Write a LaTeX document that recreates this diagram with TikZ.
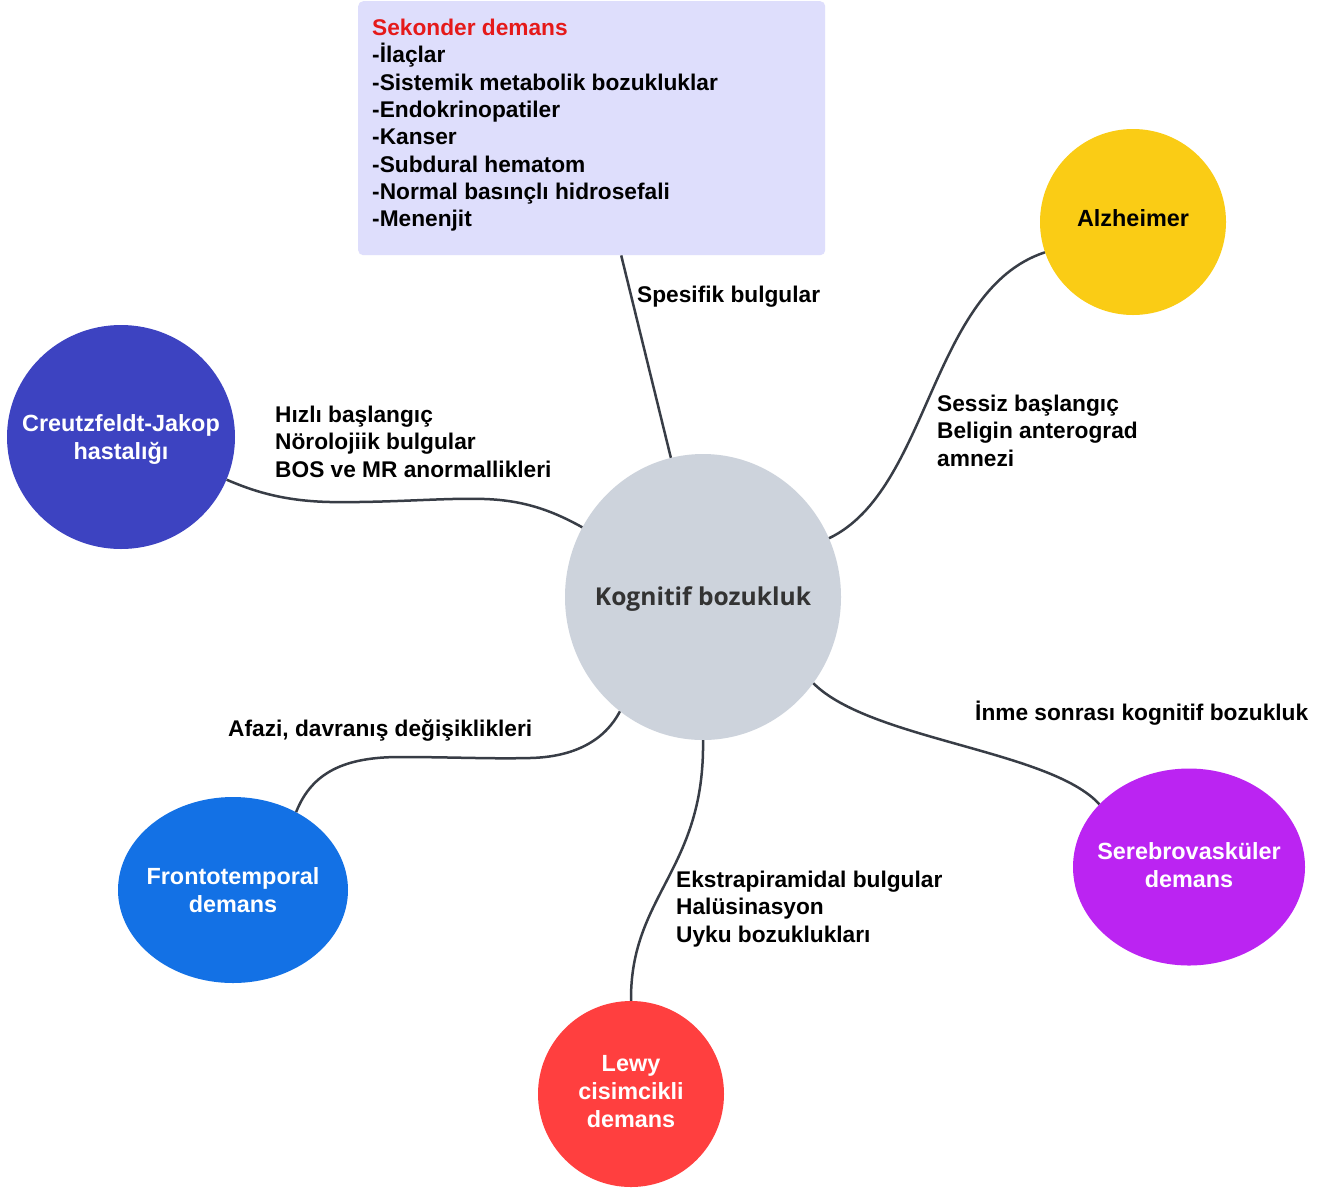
\documentclass[tikz,border=0pt]{standalone}
\usepackage{fontspec}
\setmainfont{Liberation Sans}
\newfontfamily\ctrfont{Open Sans}
\usetikzlibrary{shapes.geometric}
\definecolor{boxfill}{HTML}{DEDEFC}
\definecolor{secred}{HTML}{E51A1A}
\definecolor{ctrfill}{HTML}{CDD3DC}
\definecolor{alzfill}{HTML}{FACC15}
\definecolor{cjfill}{HTML}{3D43C1}
\definecolor{ftfill}{HTML}{1371E5}
\definecolor{lewyfill}{HTML}{FF3F3F}
\definecolor{serfill}{HTML}{BB24F2}
\definecolor{linkcol}{HTML}{383D46}
\definecolor{ctrtext}{HTML}{333333}
\begin{document}
\begin{tikzpicture}[x=1pt,y=-1pt,
  lbl/.style={font=\fontsize{22.7}{27.3}\selectfont\bfseries, inner sep=0pt, align=left, anchor=north west, text=black},
  lblone/.style={font=\fontsize{22.7}{27.3}\selectfont\bfseries, inner sep=0pt, anchor=base west, text=black},
  blob/.style={ellipse, inner sep=0pt, draw=none},
  blobtext/.style={font=\fontsize{23.4}{28}\selectfont\bfseries, inner sep=0pt, align=center, text=white},
  link/.style={draw=linkcol, line width=2.5pt}
]
\useasboundingbox (0,0) rectangle (1340,1189);
\fill[white] (0,0) rectangle (1340,1189);

% secondary dementia box
\node[fill=boxfill, rounded corners=5pt, minimum width=467pt, minimum height=254pt, anchor=north west, inner sep=0pt] (box) at (358,1) {};
\node[lbl] (boxtxt) at (372,19) {\textcolor{secred}{Sekonder demans}\\-İlaçlar\\-Sistemik metabolik bozukluklar\\-Endokrinopatiler\\-Kanser\\-Subdural hematom\\-Normal basınçlı hidrosefali\\-Menenjit};

% circles
\node[blob, fill=ctrfill, minimum width=276pt, minimum height=286pt] (ctr) at (703,597) {};
\node[blob, fill=alzfill, minimum width=186pt, minimum height=186pt] (alz) at (1133,222) {};
\node[blob, fill=cjfill, minimum width=228pt, minimum height=224pt] (cj) at (121,437) {};
\node[blob, fill=ftfill, minimum width=230pt, minimum height=186pt] (ft) at (233,890) {};
\node[blob, fill=lewyfill, minimum width=186pt, minimum height=186pt] (lewy) at (631,1094) {};
\node[blob, fill=serfill, minimum width=232pt, minimum height=197pt] (ser) at (1189,867) {};

% circle texts
\node[font=\ctrfont\fontsize{24.6}{29}\selectfont\bfseries, text=ctrtext, inner sep=0pt] (ctrt) at ([yshift=-2pt]ctr.center) {Kognitif bozukluk};
\node[blobtext, text=black] (alzt) at ([yshift=4pt]alz.center) {Alzheimer};
\node[blobtext] (cjt) at ([yshift=-2pt]cj.center) {Creutzfeldt-Jakop\\hastalığı};
\node[blobtext] (ftt) at (ft.center) {Frontotemporal\\demans};
\node[blobtext] (lewyt) at ([yshift=2pt]lewy.center) {Lewy\\cisimcikli\\demans};
\node[blobtext] (sert) at ([yshift=2pt]ser.center) {Serebrovasküler\\demans};

% connectors
\draw[link] ([xshift=29.5pt]box.south) -- (ctr.103.7);
\draw[link] (ctr.25) .. controls (930,490) and (930,290) .. (alz.199);
\draw[link] (cj.-22.7) .. controls (255,492) and (285,501) .. (330,502)
  .. controls (400,503) and (460,496) .. (500,500)
  .. controls (530,503) and (555,512) .. (ctr.150);
\draw[link] (ft.51) .. controls (312,772) and (345,757) .. (400,757)
  .. controls (450,757) and (490,759) .. (530,758)
  .. controls (575,757) and (605,740) .. (ctr.234);
\draw[link] (ctr.270) .. controls (705,870) and (630,895) .. (lewy.90);
\draw[link] (ctr.322) .. controls (870,740) and (1050,750) .. (ser.145);

% labels
\node[lblone] (spes) at (637,302) {Spesifik bulgular};
\node[lbl] (sessiz) at (937,395) {Sessiz başlangıç\\Beligin anterograd\\amnezi};
\node[lbl] (hizli) at (275,406) {Hızlı başlangıç\\Nörolojiik bulgular\\BOS ve MR anormallikleri};
\node[lblone] (afazi) at (228,736) {Afazi, davranış değişiklikleri};
\node[lblone] (inme) at (975,720) {İnme sonrası kognitif bozukluk};
\node[lbl] (ekstra) at (676,871) {Ekstrapiramidal bulgular\\Halüsinasyon\\Uyku bozuklukları};
\end{tikzpicture}
\end{document}
